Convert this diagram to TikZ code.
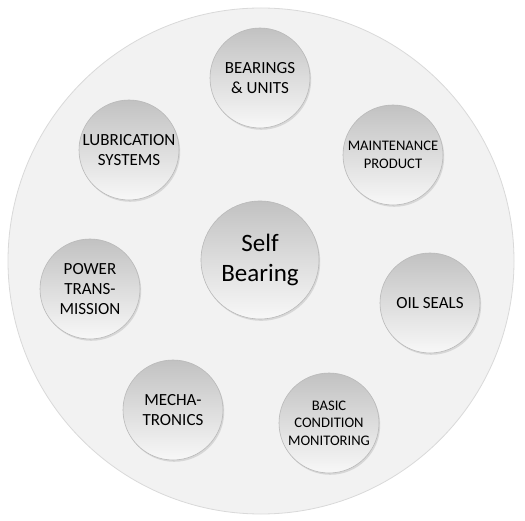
\documentclass[tikz,border=0pt]{standalone}
\usepackage{fontspec}
\setmainfont{Carlito}
\usetikzlibrary{shadows}
\definecolor{plate}{HTML}{F2F2F2}
\definecolor{platerim}{HTML}{D9D9D9}
\begin{document}
\begin{tikzpicture}[x=1pt,y=-1pt,
  ball/.style={circle,inner sep=0pt,align=center,draw=gray!55,line width=0.6pt,
    top color=gray!48,bottom color=gray!6,
    drop shadow={shadow xshift=1.2pt,shadow yshift=-1.8pt,opacity=0.35,fill=gray!70}},
  item/.style={ball,minimum size=100pt,font=\fontsize{17}{20.4}\selectfont},
  smallitem/.style={item,font=\fontsize{14.6}{17.5}\selectfont},
  hub/.style={ball,minimum size=118pt,font=\fontsize{25}{30}\selectfont}]
\useasboundingbox (0,0) rectangle (525,521);

\draw[fill=plate,draw=platerim,line width=0.8pt] (261,261) circle [radius=253];

\node [hub] at (260,260) (self) {Self\\Bearing};

\node [item] at (260,78) (bearings) {BEARINGS\\\& UNITS};
\node [smallitem] at (393,155) (maint) {MAINTENANCE\\PRODUCT};
\node [item] at (430,303) (seals) {OIL SEALS};
\node [smallitem] at (329,423) (basic) {BASIC\\CONDITION\\MONITORING};
\node [item] at (173,410) (mecha) {MECHA-\\TRONICS};
\node [item] at (90,289) (power) {POWER\\TRANS-\\MISSION};
\node [item] at (129,150) (lubri) {LUBRICATION\\SYSTEMS};
\end{tikzpicture}
\end{document}
